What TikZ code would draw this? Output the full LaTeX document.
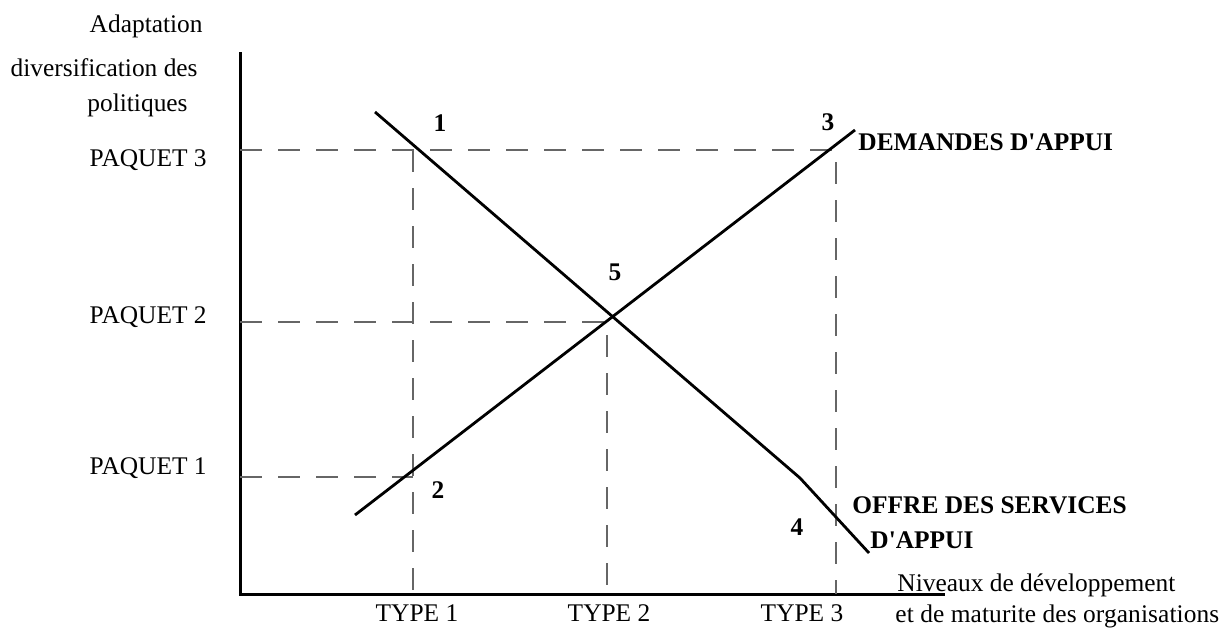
\documentclass[tikz,border=0pt]{standalone}
\usepackage{fontspec}
\setmainfont{Liberation Serif}
\usepackage{xcolor}
\usepackage{tikz}
\usetikzlibrary{positioning,calc}

\begin{document}
\begin{tikzpicture}[
  x=0.5pt, y=-0.5pt,
  every node/.style={inner sep=0pt, font=\fontsize{12.7}{15}\selectfont},
  num/.style={font=\fontsize{12.7}{15}\selectfont\bfseries},
  axis/.style={line width=1.5pt},
  curve/.style={line width=1.4pt},
  guide/.style={line width=0.7pt, gray!80!black, dash pattern=on 11pt off 8pt},
  ]
  \useasboundingbox (0,0) rectangle (1220,632);

  % axes
  \coordinate (o)  at (240,594);
  \coordinate (yt) at (240,52);
  \coordinate (xe) at (945,594);
  \draw[axis] (yt) -- (o) -- (xe);

  % levels and types
  \coordinate (p3) at (240,150);
  \coordinate (p2) at (240,322);
  \coordinate (p1) at (240,477);
  \coordinate (t1) at (413,594);
  \coordinate (t2) at (607,594);
  \coordinate (t3) at (836,594);
  \coordinate (c13) at (413,150);
  \coordinate (c33) at (836,150);
  \coordinate (c22) at (607,322);
  \coordinate (c11) at (413,477);
  \draw[guide] (p3) -- (c33) -- (t3);
  \draw[guide] (c13) -- (t1);
  \draw[guide] (p2) -- (c22) -- (t2);
  \draw[guide] (p1) -- (c11);

  % demandes
  \coordinate (d0) at (355,515);
  \coordinate (d1) at (855,130);
  \draw[curve] (d0) -- (d1);

  % offre
  \coordinate (s0) at (375,112);
  \coordinate (s1) at (800,478);
  \coordinate (s2) at (869,553);
  \draw[curve] (s0) -- (s1) -- (s2);

  % texts
  \node[anchor=east] (ya) at (203,26)  {Adaptation};
  \node[anchor=east] (yb) at (198,68)  {diversification des};
  \node[anchor=east] (yc) at (188,105) {politiques};
  \node[anchor=east] (l3) at (207,160) {PAQUET 3};
  \node[anchor=east] (l2) at (207,317) {PAQUET 2};
  \node[anchor=east] (l1) at (207,468) {PAQUET 1};
  \node (ty1) at (417,613) {TYPE 1};
  \node (ty2) at (609,613) {TYPE 2};
  \node (ty3) at (802,613) {TYPE 3};
  \node[num] (n1) at (440,123) {1};
  \node[num] (n3) at (828,122) {3};
  \node[num] (n5) at (615,272) {5};
  \node[num] (n2) at (438,490) {2};
  \node[num] (n4) at (797,527) {4};
  \node[num, anchor=west] (dem) at (858,142) {DEMANDES D\textquotesingle APPUI};
  \node[num, anchor=west] (of1) at (852,505) {OFFRE DES SERVICES};
  \node[num, anchor=west] (of2) at (870,540) {D\textquotesingle APPUI};
  \node[anchor=west] (xa) at (897,585) {Niveaux de développement};
  \node[anchor=west] (xb) at (895,616) {\addfontfeature{LetterSpace=0.4}et de maturite des organisations};
\end{tikzpicture}
\end{document}
